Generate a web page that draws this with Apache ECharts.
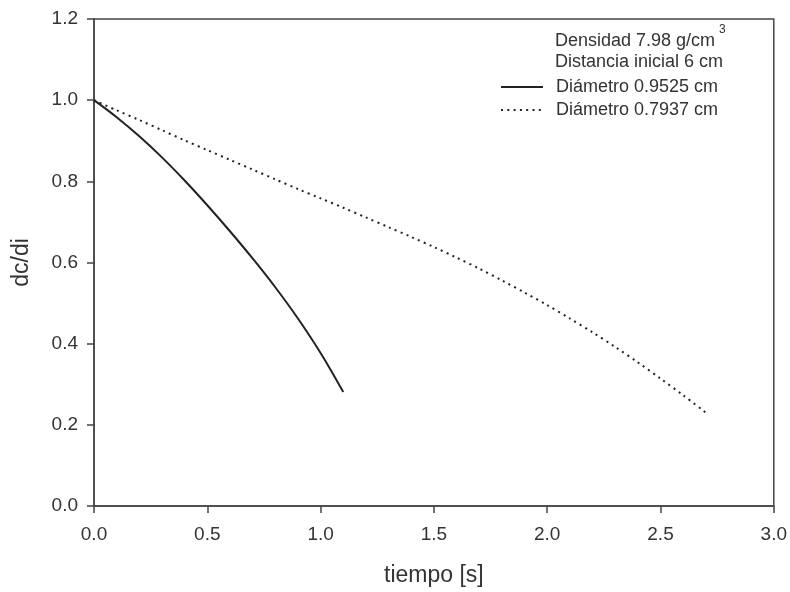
<!DOCTYPE html>
<html>
<head>
<meta charset="utf-8">
<script src="https://cdn.jsdelivr.net/npm/echarts@6/dist/echarts.min.js"></script>
<style>html,body{margin:0;padding:0;background:#fff}#c{width:790px;height:592px}</style>
</head>
<body>
<div id="c"></div>
<script>
// Data
const tSolid = [0, 0.1, 0.2, 0.3, 0.4, 0.5, 0.6, 0.7, 0.8, 0.9, 1.0, 1.1];
const ySolid = [1.0, 0.958, 0.911, 0.859, 0.802, 0.741, 0.677, 0.610, 0.539, 0.462, 0.377, 0.281];
const tDotted = [0, 0.1, 0.2, 0.3, 0.4, 0.5, 0.6, 0.7, 0.8, 0.9, 1.0, 1.1, 1.2, 1.3, 1.4, 1.5, 1.6, 1.7, 1.8, 1.9, 2.0, 2.1, 2.2, 2.3, 2.4, 2.5, 2.6, 2.7];
const yDotted = [1.0, 0.975, 0.951, 0.926, 0.901, 0.877, 0.853, 0.829, 0.805, 0.781, 0.758, 0.735, 0.711, 0.687, 0.663, 0.638, 0.612, 0.585, 0.556, 0.526, 0.495, 0.462, 0.428, 0.392, 0.354, 0.314, 0.273, 0.230];
const seriesNames = ['Diámetro 0.9525 cm', 'Diámetro 0.7937 cm'];
const noteLines = ['Densidad 7.98 g/cm', 'Distancia inicial 6 cm'];
const noteSup = '3';
const xLabel = 'tiempo [s]';
const yLabel = 'dc/di';

const ink = '#222';
const txt = '#333';
const font = 'Liberation Sans, Arial, sans-serif';

const chart = echarts.init(document.getElementById('c'), null, {renderer: 'canvas'});
chart.setOption({
  animation: false,
  backgroundColor: '#fff',
  grid: {left: 94, right: 15, top: 19, bottom: 83, show: true, borderColor: '#444', borderWidth: 1.5, backgroundColor: 'transparent'},
  xAxis: {
    type: 'value', min: 0, max: 3, interval: 0.5,
    name: xLabel, nameLocation: 'middle', nameGap: 58,
    nameTextStyle: {fontFamily: font, fontSize: 23, color: txt},
    axisLine: {show: true, lineStyle: {color: '#444', width: 1.5}},
    axisTick: {show: true, length: 7, lineStyle: {color: '#444', width: 1.5}},
    axisLabel: {margin: 19, fontFamily: font, fontSize: 19, color: txt, formatter: v => v.toFixed(1)},
    splitLine: {show: false}
  },
  yAxis: {
    type: 'value', min: 0, max: 1.2, interval: 0.2,
    name: yLabel, nameLocation: 'middle', nameGap: 61,
    nameTextStyle: {fontFamily: font, fontSize: 23, color: txt},
    axisLine: {show: true, lineStyle: {color: '#444', width: 1.5}},
    axisTick: {show: true, length: 7, lineStyle: {color: '#444', width: 1.5}},
    axisLabel: {margin: 16, fontFamily: font, fontSize: 19, color: txt, formatter: v => v.toFixed(1)},
    splitLine: {show: false}
  },
  legend: {
    orient: 'vertical', left: 500, top: 78, padding: 0, itemWidth: 42, itemHeight: 10, itemGap: 5,
    itemStyle: {opacity: 0},
    textStyle: {fontFamily: font, fontSize: 18, color: txt, padding: [0, 0, 0, 8]},
    data: seriesNames
  },
  graphic: [
    {type: 'text', left: 555, top: 24, style: {
      text: '{a|' + noteLines[0] + '}{s|' + noteSup + '}',
      rich: {a: {fontFamily: font, fontSize: 18, fill: txt, lineHeight: 26, verticalAlign: 'bottom'},
             s: {fontFamily: font, fontSize: 12, fill: txt, lineHeight: 26, verticalAlign: 'top', padding: [0, 0, 0, 4]}}
    }},
    {type: 'text', left: 555, top: 53, style: {text: noteLines[1], fontFamily: font, fontSize: 18, fill: txt}}
  ],
  series: [
    {name: seriesNames[0], type: 'line', symbol: 'none', smooth: 0.3,
     lineStyle: {color: ink, width: 2}, itemStyle: {color: ink},
     data: tSolid.map((t, i) => [t, ySolid[i]])},
    {name: seriesNames[1], type: 'line', symbol: 'none', smooth: 0.3,
     lineStyle: {color: ink, width: 2, type: [2, 4.3]}, itemStyle: {color: ink},
     data: tDotted.map((t, i) => [t, yDotted[i]])}
  ]
});
</script>
</body>
</html>
